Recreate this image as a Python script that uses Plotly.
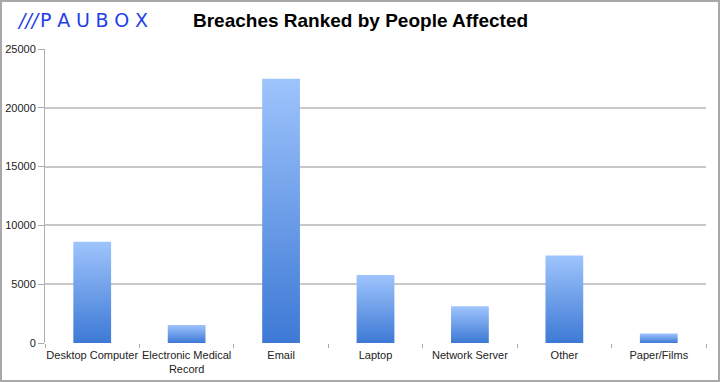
import plotly.graph_objects as go

categories = ["Desktop Computer", "Electronic Medical<br>Record", "Email", "Laptop",
              "Network Server", "Other", "Paper/Films"]
people_affected = [8620, 1530, 22480, 5780, 3120, 7430, 800]
y_ticks = [0, 5000, 10000, 15000, 20000, 25000]
y_tick_labels = [str(t) for t in y_ticks]

BAR_HALF = 0.2

fig = go.Figure()
for i, v in enumerate(people_affected):
    x0, x1 = i - BAR_HALF, i + BAR_HALF
    fig.add_trace(go.Scatter(
        x=[x0, x1, x1, x0, x0], y=[0, 0, v, v, 0],
        mode="lines", fill="toself", line=dict(width=0),
        fillgradient=dict(type="vertical",
                          colorscale=[[0, "#3d79d5"], [1, "#9ec4fc"]]),
        hoverinfo="text", text=f"{categories[i]}: {v}", showlegend=False,
    ))

fig.update_layout(
    width=720, height=382,
    margin=dict(l=45, r=14, t=49, b=39, autoexpand=False),
    paper_bgcolor="white", plot_bgcolor="white",
    font=dict(family="Liberation Sans, Arial, sans-serif", size=11, color="#222"),
    xaxis=dict(range=[-0.5, 6.5], tickmode="array", tickvals=list(range(len(categories))),
               ticktext=categories, ticks="", showgrid=False, zeroline=False,
               showline=False, fixedrange=True, automargin=False,
               ticklabelstandoff=4,
               minor=dict(tick0=-0.5, dtick=1, ticks="outside", ticklen=4,
                          tickcolor="#aaaaaa", tickwidth=1, showgrid=False)),
    yaxis=dict(range=[0, 25000], tickmode="array", tickvals=y_ticks,
               ticktext=y_tick_labels, automargin=False,
               ticks="outside", ticklen=6, tickcolor="#aaaaaa",
               showgrid=True, gridcolor="#c8c8c8", gridwidth=1.5,
               zeroline=False, showline=True, linecolor="#b0b0b0", linewidth=1,
               fixedrange=True),
    shapes=[dict(type="rect", xref="paper", yref="paper",
                 x0=-44 / 661, x1=1 + 13 / 661, y0=-38 / 294, y1=1 + 48 / 294,
                 line=dict(color="#a8a8a8", width=2), fillcolor="rgba(0,0,0,0)",
                 layer="below")],
    annotations=[
        dict(text="<b>Breaches Ranked by People Affected</b>", xref="paper", yref="paper",
             x=(360 - 45) / 661, y=1 + 29 / 294, xanchor="center", yanchor="middle",
             showarrow=False, font=dict(size=19, color="black",
                                        family="Liberation Sans, Arial, sans-serif")),
        dict(text="<i>///</i>\u200a" + "\u2009\u200a".join("PAUBOX"),
             xref="paper", yref="paper",
             x=(15 - 45) / 661, y=1 + 29 / 294, xanchor="left", yanchor="middle",
             showarrow=False, font=dict(size=19, color="#1f3fe6",
                                        family="DejaVu Sans, sans-serif")),
    ],
)

fig.write_html("out.html", config={"displayModeBar": False},
               post_script="document.body.style.margin='0';")
